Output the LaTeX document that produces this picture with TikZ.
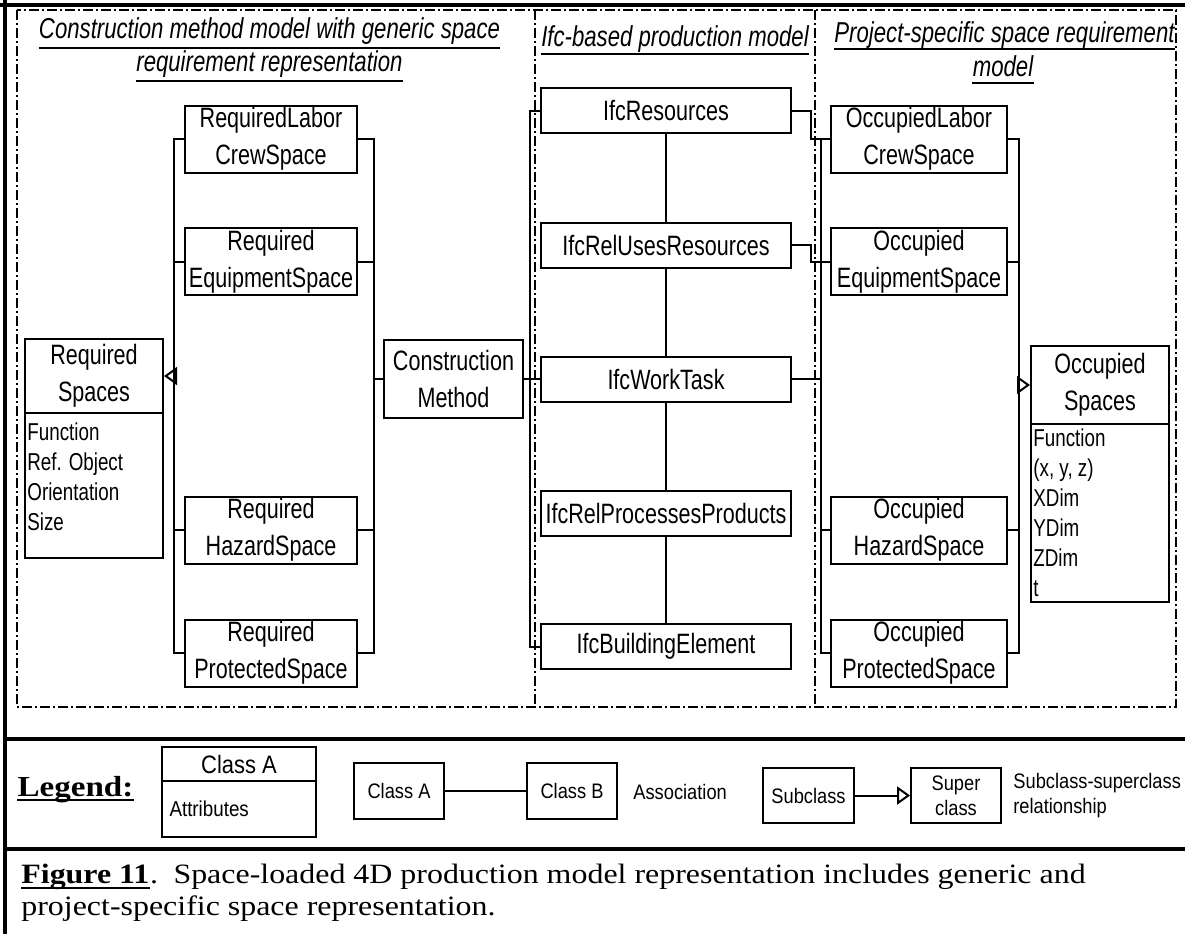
\documentclass[tikz,border=0pt]{standalone}
\usepackage{fontspec}
\newfontfamily\boxfont[FakeStretch=0.77]{Liberation Sans}
\newfontfamily\legfont[FakeStretch=0.87]{Liberation Sans}
\newfontfamily\capfont[FakeStretch=1.14]{Liberation Serif}
\usetikzlibrary{arrows.meta}

\tikzset{
  cls/.style={draw, line width=1pt, inner sep=0pt, align=center, font=\boxfont\fontsize{14}{18.3}\selectfont},
  req/.style={cls, minimum width=86pt, minimum height=33.5pt},
  occ/.style={cls, minimum width=88pt, minimum height=33.5pt},
  ifc/.style={cls, minimum width=125pt, minimum height=22.5pt},
  attrtext/.style={anchor=north west, inner sep=0pt, align=left, font=\boxfont\fontsize{12.2}{15}\selectfont},
  ttl/.style={anchor=base, inner sep=0pt, font=\boxfont\itshape\fontsize{14.4}{17}\selectfont},
  ulin/.style={line width=1pt},
  link/.style={line width=1pt},
  isa/.style={line width=1pt, -{Triangle[open, length=6.5pt, width=9pt]}},
  zone/.style={line width=0.7pt, dash pattern=on 5pt off 1.5pt on 1pt off 1.5pt},
  frame/.style={line width=2.2pt},
  legbox/.style={draw, line width=0.9pt, inner sep=0pt, align=center, font=\legfont\fontsize{10.5}{12.5}\selectfont},
  legtext/.style={anchor=west, inner sep=0pt, align=left, font=\legfont\fontsize{10.5}{12.5}\selectfont}
}

\begin{document}
\begin{tikzpicture}[x=0.5pt, y=-0.5pt]
\useasboundingbox (0,0) rectangle (1185,934);

\draw [frame] (0,5) -- (1185,5);
\draw [frame] (5,0) -- (5,934);
\draw [frame] (5,739) -- (1185,739);
\draw [frame] (5,849) -- (1185,849);

\draw [zone] (17,10) rectangle (1176,707);
\draw [zone] (535,10) -- (535,707);
\draw [zone] (815,10) -- (815,707);

% panel titles
\node [ttl] (ttlreqa) at (269.5,38) {Construction method model with generic space};
\node [ttl] (ttlreqb) at (269.5,71) {requirement representation};
\node [ttl] (ttlifc) at (675,46) {Ifc-based production model};
\node [ttl] (ttlocca) at (1004.5,42) {Project-specific space requirement};
\node [ttl] (ttloccb) at (1003,76) {model};
\draw [ulin] ([yshift=-4.8pt]ttlreqa.base west) -- ([yshift=-4.8pt]ttlreqa.base east);
\draw [ulin] ([yshift=-5.2pt]ttlreqb.base west) -- ([yshift=-5.2pt]ttlreqb.base east);
\draw [ulin] ([yshift=-3.8pt]ttlifc.base west) -- ([yshift=-3.8pt]ttlifc.base east);
\draw [ulin] ([yshift=-3.5pt]ttlocca.base west) -- ([yshift=-3.5pt]ttlocca.base east);
\draw [ulin] ([yshift=-3.5pt]ttloccb.base west) -- ([yshift=-3.5pt]ttloccb.base east);

% generic space requirements
\node [req] (reqlab) at (271,139) {RequiredLabor\\CrewSpace};
\node [req] (reqequip) at (271,261.5) {Required\\EquipmentSpace};
\node [req] (reqhaz) at (271,530) {Required\\HazardSpace};
\node [req] (reqprot) at (271,653) {Required\\ProtectedSpace};
\node [cls, minimum width=69pt, minimum height=37pt] (reqsp) at (94,376) {Required\\Spaces};
\node [cls, minimum width=69pt, minimum height=72.5pt] (reqattr) at (94,485.5) {};
\node [attrtext] (reqattrtxt) at ([xshift=1.5pt, yshift=-5pt]reqattr.north west) {Function\\Ref. Object\\Orientation\\Size};
\node [cls, minimum width=69.5pt, minimum height=39pt] (cm) at (453.5,379) {Construction\\Method};

\draw [link] (reqlab.west) -- ++(-10,0) coordinate (reqbusl) |- (reqprot.west);
\draw [link] (reqequip.west) -- (reqequip.west -| reqbusl);
\draw [link] (reqhaz.west) -- (reqhaz.west -| reqbusl);
\draw [isa] (reqbusl |- reqsp.east) -- (reqsp.east);
\draw [link] (reqlab.east) -- ++(16,0) coordinate (reqbusr) |- (reqprot.east);
\draw [link] (reqequip.east) -- (reqequip.east -| reqbusr);
\draw [link] (reqhaz.east) -- (reqhaz.east -| reqbusr);
\draw [link] (reqbusr |- cm.west) -- (cm.west);

% ifc production model
\node [ifc] (ifcres) at (666,110.5) {IfcResources};
\node [ifc] (ifcuses) at (666,245) {IfcRelUsesResources};
\node [ifc] (ifcwt) at (666,379) {IfcWorkTask};
\node [ifc] (ifcproc) at (666,513.5) {IfcRelProcessesProducts};
\node [ifc] (ifcbe) at (666,646.5) {IfcBuildingElement};

\draw [link] (ifcres) edge (ifcuses) (ifcuses) edge (ifcwt) (ifcwt) edge (ifcproc) (ifcproc) edge (ifcbe);
\draw [link] (ifcres.west) -- ++(-10,0) coordinate (ifcbus) |- (ifcbe.west);
\draw [link] (cm.east) -- (ifcwt.west);

% project-specific spaces
\node [occ] (occlab) at (919,139) {OccupiedLabor\\CrewSpace};
\node [occ] (occequip) at (919,261.5) {Occupied\\EquipmentSpace};
\node [occ] (occhaz) at (919,530) {Occupied\\HazardSpace};
\node [occ] (occprot) at (919,653) {Occupied\\ProtectedSpace};
\node [cls, minimum width=69pt, minimum height=39pt] (occsp) at (1100,385) {Occupied\\Spaces};
\node [cls, minimum width=69pt, minimum height=89pt] (occattr) at (1100,513) {};
\node [attrtext] (occattrtxt) at ([xshift=1.5pt, yshift=-2.5pt]occattr.north west) {Function\\(x, y, z)\\XDim\\YDim\\ZDim\\t};

\draw [link] (occlab.west) -- ++(-9,0) coordinate (occbusl) |- (occprot.west);
\draw [link] (occequip.west) -- (occequip.west -| occbusl);
\draw [link] (occhaz.west) -- (occhaz.west -| occbusl);
\draw [link] (ifcres.east) -- ++(19,0) |- (occlab.west);
\draw [link] (ifcuses.east) -- ++(19,0) |- (occequip.west);
\draw [link] (ifcwt.east) -- (ifcwt.east -| occbusl);
\draw [link] (occlab.east) -- ++(11,0) coordinate (occbusr) |- (occprot.east);
\draw [link] (occequip.east) -- (occequip.east -| occbusr);
\draw [link] (occhaz.east) -- (occhaz.east -| occbusr);
\draw [isa] (occbusr |- occsp.west) -- (occsp.west);

% legend
\node [anchor=base, inner sep=0pt, font=\capfont\bfseries\fontsize{14.5}{17}\selectfont] (legttl) at (75.5,796) {Legend:};
\draw [ulin] ([yshift=-1.8pt]legttl.base west) -- ([yshift=-1.8pt]legttl.base east);
\node [legbox, minimum width=77pt, minimum height=17pt, font=\legfont\fontsize{12.6}{14}\selectfont] (legcls) at (239,764) {Class A};
\node [legbox, minimum width=77pt, minimum height=28pt] (legattr) at (239,809) {};
\node [legtext, font=\legfont\fontsize{10.8}{12}\selectfont] (legattrtxt) at ([xshift=4pt]legattr.west) {Attributes};
\node [legbox, minimum width=45pt, minimum height=28pt] (legca) at (399,791) {Class A};
\node [legbox, minimum width=45pt, minimum height=28pt] (legcb) at (572,791) {Class B};
\draw [link] (legca) -- (legcb);
\node [legtext] (legassoc) at (633,792) {Association};
\node [legbox, minimum width=45.5pt, minimum height=27.5pt] (legsub) at (808.5,795.5) {Subclass};
\node [legbox, minimum width=45pt, minimum height=27.5pt] (legsup) at (956,795.5) {Super\\class};
\draw [isa] (legsub) -- (legsup);
\node [legtext] (legisa) at (1013,795.5) {Subclass-superclass\\relationship};

% caption
\node [anchor=base west, inner sep=0pt, font=\capfont\bfseries\fontsize{14}{17}\selectfont] (capfig) at (21,883) {Figure 11};
\draw [ulin] ([yshift=-2.5pt]capfig.base west) -- ([yshift=-2.5pt]capfig.base east);
\node [anchor=base west, inner sep=0pt, font=\capfont\fontsize{14}{17}\selectfont] (capa) at (capfig.base east) {.\hspace{0.55em}Space-loaded 4D production model representation includes generic and};
\node [anchor=base west, inner sep=0pt, font=\capfont\fontsize{14}{17}\selectfont] (capb) at (21,915) {project-specific space representation.};
\end{tikzpicture}
\end{document}
